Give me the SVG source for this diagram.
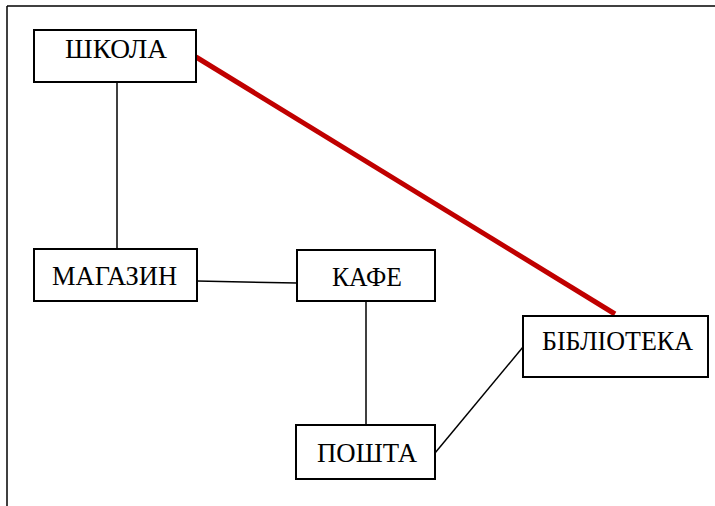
<svg xmlns="http://www.w3.org/2000/svg" width="715" height="506" viewBox="0 0 715 506">
<style>
.box{fill:#fff;stroke:#000;stroke-width:2}
.lbl{font-family:"Liberation Serif","Times New Roman",serif;font-size:27px;fill:#000}
.ln{stroke:#000;stroke-width:1.5;fill:none}
.red{stroke:#c00000;stroke-width:5;fill:none}
</style>
<rect width="715" height="506" fill="#fff"/>
<g id="frame">
<line x1="7" y1="6" x2="715" y2="6" stroke="#000" stroke-width="1.5"/>
<line x1="7" y1="6" x2="7" y2="506" stroke="#000" stroke-width="1.5"/>
</g>
<g id="connectors">
<line class="ln" x1="117" y1="82" x2="117" y2="249"/>
<line class="ln" x1="197" y1="281" x2="297" y2="283"/>
<line class="ln" x1="366" y1="301" x2="366" y2="425"/>
<line class="ln" x1="435" y1="453" x2="523" y2="347"/>
<line class="red" x1="196" y1="57" x2="615" y2="314"/>
</g>
<g id="shkola">
<rect class="box" x="34" y="30" width="162" height="52"/>
<text class="lbl" x="65" y="58" textLength="102" lengthAdjust="spacingAndGlyphs">ШКОЛА</text>
</g>
<g id="magazyn">
<rect class="box" x="34" y="249" width="163" height="52"/>
<text class="lbl" x="52" y="285" textLength="125" lengthAdjust="spacingAndGlyphs">МАГАЗИН</text>
</g>
<g id="kafe">
<rect class="box" x="297" y="250" width="138" height="51"/>
<text class="lbl" x="332" y="286" textLength="70" lengthAdjust="spacingAndGlyphs">КАФЕ</text>
</g>
<g id="poshta">
<rect class="box" x="296" y="425" width="139" height="54"/>
<text class="lbl" x="317" y="462" textLength="100" lengthAdjust="spacingAndGlyphs">ПОШТА</text>
</g>
<g id="biblioteka">
<rect class="box" x="523" y="316" width="185" height="61"/>
<text class="lbl" x="542" y="350" textLength="151" lengthAdjust="spacingAndGlyphs">БІБЛІОТЕКА</text>
</g>
</svg>
